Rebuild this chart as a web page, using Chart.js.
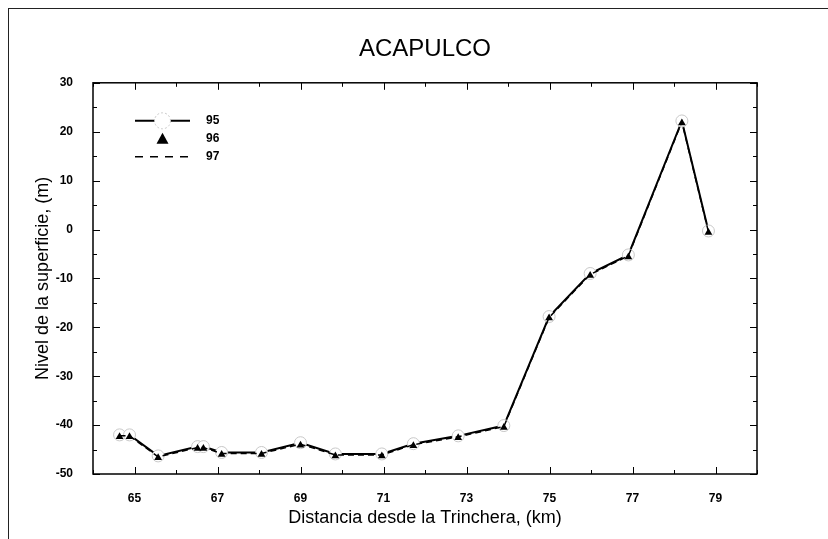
<!DOCTYPE html>
<html>
<head>
<meta charset="utf-8">
<script src="https://cdn.jsdelivr.net/npm/chart.js@4.4.0/dist/chart.umd.min.js"></script>
<style>
  html, body { margin: 0; padding: 0; background: #fff; }
  #wrap { position: relative; width: 828px; height: 539px; }
  #frame {
    position: absolute; left: 8px; top: 8px; right: 0; bottom: 0;
    border-left: 1.5px solid #222; border-top: 1.5px solid #222;
    pointer-events: none;
  }
</style>
</head>
<body>
<div id="wrap">
  <canvas id="perfil" width="828" height="539"></canvas>
  <div id="frame"></div>
</div>
<script>
// perfil de nivel frente a Acapulco, campañas 95 / 96 / 97
const distanciaKm = [64.64, 64.88, 65.57, 66.52, 66.66, 67.10, 68.06, 69.00, 69.84,
                     70.96, 71.72, 72.80, 73.90, 74.99, 75.98, 76.90, 78.19, 78.83];
const nivel95 = [-42.0, -42.0, -46.3, -44.4, -44.4, -45.6, -45.6, -43.6, -45.9,
                 -45.9, -43.8, -42.2, -40.1, -17.8, -9.0, -5.2, 22.2, -0.3];
const nivel96 = [-42.4, -42.4, -46.7, -44.8, -44.8, -46.0, -46.0, -44.1, -46.3,
                 -46.3, -44.2, -42.6, -40.5, -18.1, -9.4, -5.6, 21.8, -0.6];
const nivel97 = [-42.2, -42.2, -46.5, -44.6, -44.6, -45.8, -45.8, -43.9, -46.1,
                 -46.1, -44.0, -42.4, -40.3, -18.0, -9.2, -5.4, 22.0, -0.5];
const campanas = ["95", "96", "97"];
const xTicks = { min: 64, max: 80, step: 1 };
const yTicks = { min: -50, max: 30, step: 10 };

const fuente = "'Liberation Sans', Arial, sans-serif";
Chart.defaults.font.family = fuente;
Chart.defaults.color = "#000";

function puntos(ys) {
    return distanciaKm.map((x, i) => ({ x: x, y: ys[i] }));
}

// marco con marcas hacia dentro en los cuatro lados
const marcoPlugin = {
    id: "marco",
    afterDraw(chart) {
        const { ctx, chartArea: a, scales: { x, y } } = chart;
        ctx.save();
        ctx.strokeStyle = "#000";
        ctx.lineWidth = 1.5;
        ctx.strokeRect(a.left, a.top, a.right - a.left, a.bottom - a.top);
        ctx.lineWidth = 1;
        ctx.beginPath();
        y.ticks.forEach(t => {
            [t.value, t.value + yTicks.step / 2].forEach((v, k) => {
                if (v > yTicks.max) return;
                const py = Math.round(y.getPixelForValue(v)) + 0.5;
                const len = k === 0 ? 7 : 4;
                ctx.moveTo(a.left, py); ctx.lineTo(a.left + len, py);
                ctx.moveTo(a.right, py); ctx.lineTo(a.right - len, py);
            });
        });
        x.ticks.forEach(t => {
            const px = Math.round(x.getPixelForValue(t.value)) + 0.5;
            const len = t.value % 2 === 1 ? 7 : 4;
            ctx.moveTo(px, a.bottom); ctx.lineTo(px, a.bottom - len);
            ctx.moveTo(px, a.top); ctx.lineTo(px, a.top + len);
        });
        ctx.stroke();
        ctx.restore();
    }
};

// leyenda dentro del área de trazado
const leyendaPlugin = {
    id: "leyenda",
    afterDraw(chart) {
        const { ctx, chartArea: a } = chart;
        const x0 = a.left + 42, x1 = a.left + 97, xc = (x0 + x1) / 2;
        const filas = [a.top + 38, a.top + 56, a.top + 74];
        ctx.save();
        // 95: línea continua con círculo abierto
        ctx.strokeStyle = "#000";
        ctx.lineWidth = 2;
        ctx.beginPath();
        ctx.moveTo(x0, filas[0]); ctx.lineTo(x1, filas[0]);
        ctx.stroke();
        ctx.fillStyle = "#fff";
        ctx.strokeStyle = "#c8c8c8";
        ctx.lineWidth = 1;
        ctx.setLineDash([2, 2]);
        ctx.beginPath();
        ctx.arc(xc, filas[0], 8, 0, Math.PI * 2);
        ctx.fill(); ctx.stroke();
        ctx.setLineDash([]);
        // 96: triángulo negro
        ctx.fillStyle = "#000";
        ctx.beginPath();
        ctx.moveTo(xc, filas[1] - 6);
        ctx.lineTo(xc + 6, filas[1] + 5);
        ctx.lineTo(xc - 6, filas[1] + 5);
        ctx.closePath();
        ctx.fill();
        // 97: línea discontinua
        ctx.strokeStyle = "#000";
        ctx.lineWidth = 1.5;
        ctx.setLineDash([8, 7]);
        ctx.beginPath();
        ctx.moveTo(x0, filas[2]); ctx.lineTo(x1, filas[2]);
        ctx.stroke();
        ctx.setLineDash([]);
        ctx.font = "bold 12px " + fuente;
        ctx.textBaseline = "middle";
        ctx.textAlign = "left";
        campanas.forEach((c, i) => ctx.fillText(c, x1 + 16, filas[i]));
        ctx.restore();
    }
};

new Chart(document.getElementById("perfil"), {
    type: "scatter",
    data: {
        datasets: [
            {
                label: campanas[0],
                data: puntos(nivel95),
                showLine: true,
                borderColor: "#000",
                borderWidth: 2,
                pointStyle: "circle",
                pointRadius: 6,
                pointBackgroundColor: "#fff",
                pointBorderColor: "#c8c8c8",
                pointBorderWidth: 1,
                order: 3
            },
            {
                label: campanas[1],
                data: puntos(nivel96),
                showLine: false,
                pointStyle: "triangle",
                pointRadius: 4.5,
                pointBackgroundColor: "#000",
                pointBorderColor: "#000",
                pointBorderWidth: 0,
                order: 1
            },
            {
                label: campanas[2],
                data: puntos(nivel97),
                showLine: true,
                borderColor: "#000",
                borderWidth: 1.5,
                borderDash: [6, 4],
                pointRadius: 0,
                order: 2
            }
        ]
    },
    options: {
        responsive: false,
        animation: false,
        layout: { padding: { top: 0, right: 71, bottom: 0, left: 0 } },
        plugins: {
            legend: { display: false },
            tooltip: { enabled: false },
            title: {
                display: true,
                text: "ACAPULCO",
                fullSize: false,
                color: "#000",
                font: { size: 24, weight: "normal" },
                padding: { top: 35, bottom: 19 }
            }
        },
        scales: {
            x: {
                type: "linear",
                min: xTicks.min,
                max: xTicks.max,
                grid: { display: false },
                border: { display: false },
                ticks: {
                    stepSize: xTicks.step,
                    autoSkip: false,
                    maxRotation: 0,
                    padding: 9,
                    font: { size: 12, weight: "bold" },
                    callback: v => (v % 2 === 1 ? String(v) : "")
                },
                title: {
                    display: true,
                    text: "Distancia desde la Trinchera, (km)",
                    font: { size: 18 },
                    padding: { top: 0, bottom: 10 }
                },
                afterFit: s => { s.height = 65; }
            },
            y: {
                min: yTicks.min,
                max: yTicks.max,
                grid: { display: false },
                border: { display: false },
                ticks: {
                    stepSize: yTicks.step,
                    padding: 12,
                    font: { size: 12, weight: "bold" }
                },
                title: {
                    display: true,
                    text: "Nivel de la superficie, (m)",
                    font: { size: 18 },
                    padding: { top: 32, bottom: 0 }
                },
                afterFit: s => { s.width = 93; }
            }
        }
    },
    plugins: [marcoPlugin, leyendaPlugin]
});
</script>
</body>
</html>
